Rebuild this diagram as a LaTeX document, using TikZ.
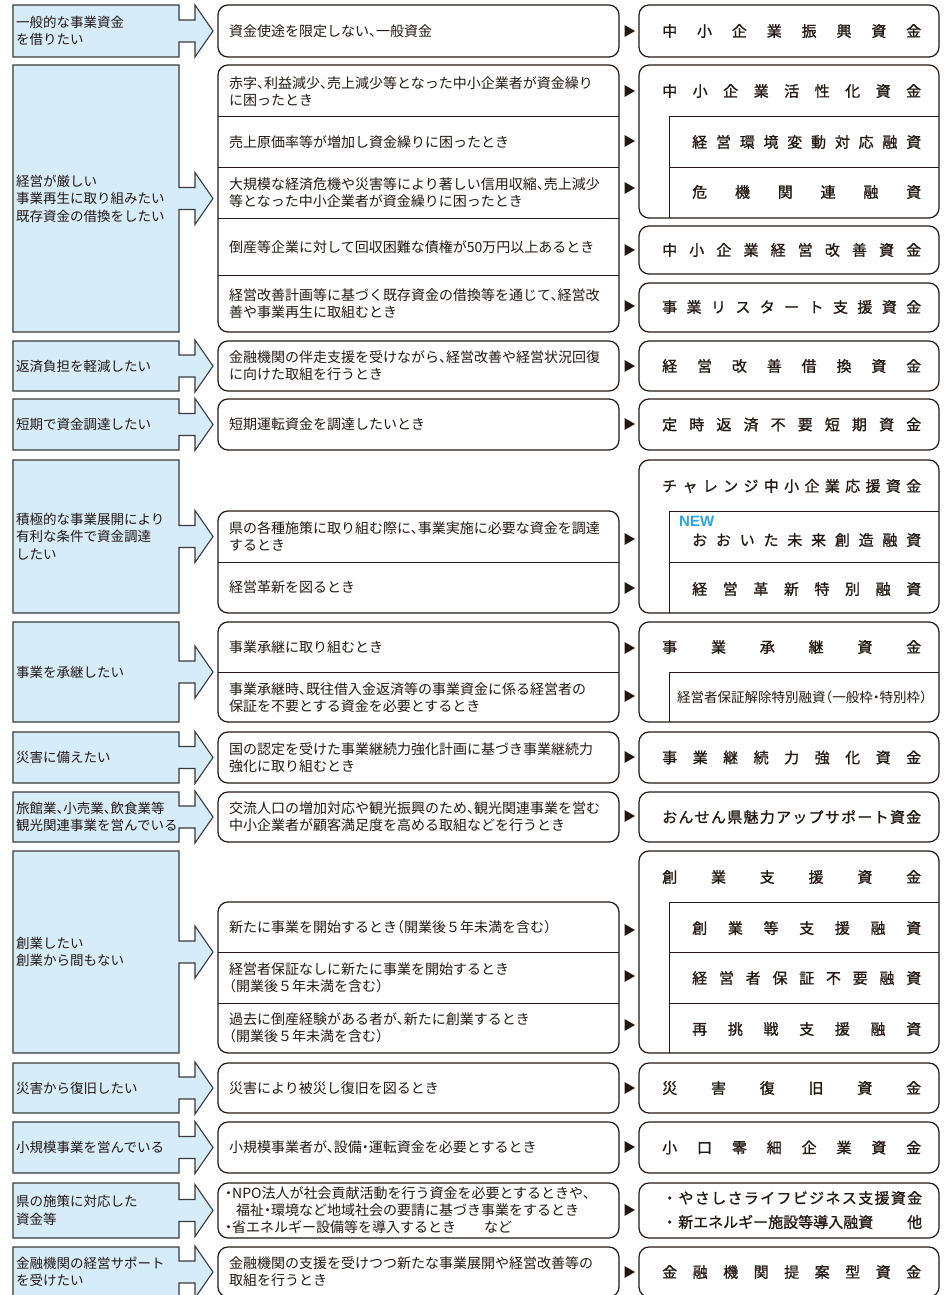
\documentclass[tikz,border=0pt]{standalone}
\usepackage{fontspec}
\setmainfont{Noto Sans CJK JP}
\newfontfamily\jpmid[RawFeature={+halt}]{Noto Sans CJK JP}
\newfontfamily\jptitle[FakeBold=1.0]{Noto Sans CJK JP}
\newfontfamily\latinsans{Liberation Sans}
\definecolor{lblue}{HTML}{D7ECF9}
\definecolor{lineclr}{HTML}{3A3A3A}
\definecolor{txt}{HTML}{231815}
\definecolor{newblue}{HTML}{2AA5E2}
\tikzset{
  lbox/.style={draw=lineclr, line width=1.1pt, fill=lblue, line join=miter},
  mbox/.style={draw=txt, line width=1.2pt, rounded corners=10pt},
  divl/.style={draw=txt, line width=1pt},
  ltext/.style={anchor=west, align=left, inner sep=0pt, font=\jpmid\fontsize{13.5}{17.5}\selectfont, text=txt},
  mtext/.style={anchor=west, align=left, inner sep=0pt, font=\jpmid\fontsize{14}{17}\selectfont, text=txt},
  rtext/.style={anchor=west, inner sep=0pt, font=\jptitle\fontsize{15}{18}\selectfont, text=txt},
  rsmall/.style={anchor=west, inner sep=0pt, font=\jpmid\fontsize{13.5}{17}\selectfont, text=txt},
}
\newcommand\LBox[4]{%
  \pgfmathsetmacro\myCY{(#2+#3)/2}%
  \draw[lbox] (13,#2) -- (179,#2) -- (179,\myCY-11) -- (195,\myCY-11) -- (195,\myCY-26) -- (213,\myCY) -- (195,\myCY+26) -- (195,\myCY+11) -- (179,\myCY+11) -- (179,#3) -- (13,#3) -- cycle;
  \node[ltext] (#1) at (16,\myCY) {#4};
}
\newcommand\MBox[2]{\draw[mbox] (218,#1) rectangle (619,#2);}
\newcommand\RBox[2]{\draw[mbox] (639,#1) rectangle (939,#2);}
\newcommand\MDiv[1]{\draw[divl] (218,#1) -- (619,#1);}
\newcommand\RDiv[1]{\draw[divl] (669,#1) -- (939,#1);}
\newcommand\Tri[1]{\fill[txt] (624.5,#1-6) -- (635,#1) -- (624.5,#1+6) -- cycle;}
\newcommand\MT[3]{\node[mtext] (#1) at (229,#2) {#3};}
\newcommand\SpreadBox[2]{\makebox[#1][s]{\spaceskip=0pt plus 1fil\relax #2}}
\newcommand\RTitle[3]{\node[rtext] (#1) at (662,#2) {\SpreadBox{259pt}{#3}};}
\newcommand\RItem[3]{\node[rtext] (#1) at (692,#2) {\SpreadBox{229pt}{#3}};}
\begin{document}
\begin{tikzpicture}[x=1pt,y=-1pt]
\useasboundingbox (0,0) rectangle (946,1295);
\fill[white] (0,0) rectangle (946,1295);

% Row 1
\LBox{l1}{5}{57}{一般的な事業資金\\を借りたい}
\MBox{5}{57}
\MT{m1}{31}{資金使途を限定しない、一般資金}
\Tri{31}
\RBox{5}{57}
\RTitle{r1}{31}{中 小 企 業 振 興 資 金}

% Row 2
\LBox{l2}{65}{332}{経営が厳しい\\事業再生に取り組みたい\\既存資金の借換をしたい}
\MBox{65}{332}
\MDiv{117}\MDiv{167}\MDiv{218}\MDiv{275}
\MT{m2a}{92}{赤字、利益減少、売上減少等となった中小企業者が資金繰り\\に困ったとき}
\MT{m2b}{142}{売上原価率等が増加し資金繰りに困ったとき}
\MT{m2c}{193}{大規模な経済危機や災害等により著しい信用収縮、売上減少\\等となった中小企業者が資金繰りに困ったとき}
\MT{m2d}{247}{倒産等企業に対して回収困難な債権が50万円以上あるとき}
\MT{m2e}{304}{経営改善計画等に基づく既存資金の借換等を通じて、経営改\\善や事業再生に取組むとき}
\Tri{91}\Tri{141}\Tri{188}\Tri{250}\Tri{306}
\RBox{65}{218}
\draw[divl] (669,218) -- (669,117) -- (939,117);
\RDiv{167}
\RTitle{r2a}{91}{中 小 企 業 活 性 化 資 金}
\RItem{r2b}{142}{経 営 環 境 変 動 対 応 融 資}
\RItem{r2c}{192}{危 機 関 連 融 資}
\RBox{226}{274}
\RTitle{r2d}{250}{中 小 企 業 経 営 改 善 資 金}
\RBox{283}{332}
\RTitle{r2e}{307}{事 業 リ ス タ ー ト 支 援 資 金}

% Row 3
\LBox{l3}{341}{391}{返済負担を軽減したい}
\MBox{341}{391}
\MT{m3}{366}{金融機関の伴走支援を受けながら、経営改善や経営状況回復\\に向けた取組を行うとき}
\Tri{366}
\RBox{341}{391}
\RTitle{r3}{366}{経 営 改 善 借 換 資 金}

% Row 4
\LBox{l4}{399}{450}{短期で資金調達したい}
\MBox{399}{450}
\MT{m4}{424.5}{短期運転資金を調達したいとき}
\Tri{424}
\RBox{399}{450}
\RTitle{r4}{424.5}{定 時 返 済 不 要 短 期 資 金}

% Row 5
\LBox{l5}{460}{613}{積極的な事業展開により\\有利な条件で資金調達\\したい}
\MBox{511}{613}
\MDiv{562}
\MT{m5a}{536.5}{県の各種施策に取り組む際に、事業実施に必要な資金を調達\\するとき}
\MT{m5b}{587.5}{経営革新を図るとき}
\Tri{539}\Tri{588}
\RBox{460}{613}
\draw[divl] (669,613) -- (669,511) -- (939,511);
\RDiv{562}
\RTitle{r5a}{486}{チ ャ レ ン ジ 中 小 企 業 応 援 資 金}
\node[anchor=west, inner sep=0pt, font=\latinsans\bfseries\fontsize{15}{15}\selectfont, text=newblue] (new) at (679,521.5) {NEW};
\RItem{r5b}{540}{お お い た 未 来 創 造 融 資}
\RItem{r5c}{589}{経 営 革 新 特 別 融 資}

% Row 6
\LBox{l6}{622}{722}{事業を承継したい}
\MBox{622}{722}
\MDiv{672}
\MT{m6a}{647}{事業承継に取り組むとき}
\MT{m6b}{697.5}{事業承継時、既往借入金返済等の事業資金に係る経営者の\\保証を不要とする資金を必要とするとき}
\Tri{648}\Tri{696}
\RBox{622}{722}
\draw[divl] (669,722) -- (669,672) -- (939,672);
\RTitle{r6a}{647}{事 業 承 継 資 金}
\node[rsmall] (r6b) at (677,697) {経営者保証解除特別融資（一般枠・特別枠）};

% Row 7
\LBox{l7}{732}{783}{災害に備えたい}
\MBox{732}{783}
\MT{m7}{757.5}{国の認定を受けた事業継続力強化計画に基づき事業継続力\\強化に取り組むとき}
\Tri{757}
\RBox{732}{783}
\RTitle{r7}{757.5}{事 業 継 続 力 強 化 資 金}

% Row 8
\LBox{l8}{792}{842}{旅館業、小売業、飲食業等\\観光関連事業を営んでいる}
\MBox{792}{842}
\MT{m8}{817}{交流人口の増加対応や観光振興のため、観光関連事業を営む\\中小企業者が顧客満足度を高める取組などを行うとき}
\Tri{816}
\RBox{792}{842}
\RTitle{r8}{817}{お ん せ ん 県 魅 力 ア ッ プ サ ポ ー ト 資 金}

% Row 9
\LBox{l9}{851}{1053}{創業したい\\創業から間もない}
\MBox{902}{1053}
\MDiv{952}\MDiv{1003}
\MT{m9a}{927}{新たに事業を開始するとき（開業後５年未満を含む）}
\MT{m9b}{978}{経営者保証なしに新たに事業を開始するとき\\（開業後５年未満を含む）}
\MT{m9c}{1028}{過去に倒産経験がある者が、新たに創業するとき\\（開業後５年未満を含む）}
\Tri{930}\Tri{976}\Tri{1025}
\RBox{851}{1053}
\draw[divl] (669,1053) -- (669,902) -- (939,902);
\RDiv{952}\RDiv{1003}
\RTitle{r9a}{877}{創 業 支 援 資 金}
\RItem{r9b}{928}{創 業 等 支 援 融 資}
\RItem{r9c}{978}{経 営 者 保 証 不 要 融 資}
\RItem{r9d}{1029}{再 挑 戦 支 援 融 資}

% Row 10
\LBox{l10}{1063}{1113}{災害から復旧したい}
\MBox{1063}{1113}
\MT{m10}{1088}{災害により被災し復旧を図るとき}
\Tri{1088}
\RBox{1063}{1113}
\RTitle{r10}{1088}{災 害 復 旧 資 金}

% Row 11
\LBox{l11}{1122}{1173}{小規模事業を営んでいる}
\MBox{1122}{1173}
\MT{m11}{1147.5}{小規模事業者が、設備・運転資金を必要とするとき}
\Tri{1147}
\RBox{1122}{1173}
\RTitle{r11}{1147.5}{小 口 零 細 企 業 資 金}

% Row 12
\LBox{l12}{1183}{1238}{県の施策に対応した\\資金等}
\MBox{1183}{1238}
\node[mtext] (m12) at (225,1210.5) {・NPO法人が社会貢献活動を行う資金を必要とするときや、\\\hspace*{11pt}福祉・環境など地域社会の要請に基づき事業をするとき\\・省エネルギー設備等を導入するとき\hspace{28pt}など};
\Tri{1210}
\RBox{1183}{1238}
\node[rtext] (r12a) at (662,1198) {\SpreadBox{260pt}{・ や さ し さ ラ イ フ ビ ジ ネ ス 支 援 資 金}};
\node[rtext] (r12b) at (662,1222) {\makebox[260pt][s]{・\hspace{1pt}新エネルギー施設等導入融資\hfill 他}};

% Row 13
\LBox{l13}{1247}{1297}{金融機関の経営サポート\\を受けたい}
\MBox{1247}{1297}
\MT{m13}{1272}{金融機関の支援を受けつつ新たな事業展開や経営改善等の\\取組を行うとき}
\Tri{1272}
\RBox{1247}{1297}
\RTitle{r13}{1272}{金 融 機 関 提 案 型 資 金}
\end{tikzpicture}
\end{document}
